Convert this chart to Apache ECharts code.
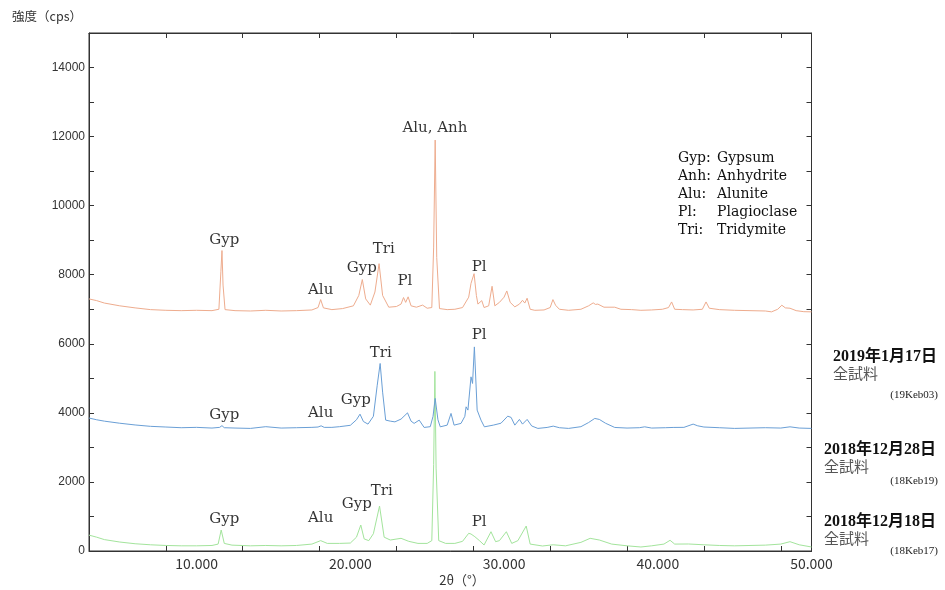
<!DOCTYPE html>
<html><head><meta charset="utf-8">
<script src="https://cdn.jsdelivr.net/npm/echarts@6/dist/echarts.min.js"></script>
<style>html,body{margin:0;padding:0;background:#fff}#c{width:945px;height:590px}</style>
</head><body><div id="c"></div>
<script>
// 2θ (deg), intensity (cps) pairs
const sample19Keb03 = [
[3.0,7300],[3.5,7250],[4.0,7180],[5.0,7100],[6.0,7040],[7.0,6990],[8.0,6970],[9.0,6960],[10.0,6970],[11.0,6960],
[11.45,7000],[11.58,8100],[11.65,8700],[11.72,7700],[11.85,6990],[12.5,6960],[13.5,6950],[14.5,6970],[15.5,6950],[16.5,6960],
[17.5,6980],[17.9,7050],[18.07,7280],[18.25,7040],[18.8,6990],[19.5,7020],[20.2,7100],[20.55,7400],[20.78,7860],[21.0,7300],
[21.3,7120],[21.6,7500],[21.87,8320],[22.1,7400],[22.5,7060],[23.0,7080],[23.3,7150],[23.46,7340],[23.6,7200],[23.76,7360],
[23.95,7100],[24.3,7060],[24.7,7120],[25.0,7030],[25.3,7050],[25.42,8800],[25.52,11900],[25.62,8500],[25.8,7020],[26.3,6990],
[26.8,7000],[27.3,7050],[27.7,7350],[27.85,7750],[28.05,8030],[28.2,7400],[28.3,7150],[28.55,7250],[28.7,7050],[29.0,7100],
[29.22,7666],[29.4,7100],[29.7,7200],[30.0,7350],[30.18,7530],[30.4,7200],[30.7,7070],[31.0,7150],[31.2,7260],[31.35,7180],
[31.5,7320],[31.7,7000],[32.0,6970],[32.6,6980],[33.0,7050],[33.18,7280],[33.35,7117],[33.6,7000],[34.2,6970],[35.0,7000],
[35.5,7100],[35.8,7185],[35.95,7140],[36.1,7150],[36.5,7060],[37.2,7060],[37.6,7000],[38.3,6990],[38.9,6970],[39.6,6980],
[40.3,7000],[40.7,7050],[40.9,7212],[41.1,7000],[41.6,6990],[42.3,6980],[42.9,7000],[43.14,7212],[43.35,7030],[44.0,6990],
[45.0,6970],[46.0,6960],[47.0,6950],[47.4,6925],[47.8,7000],[48.07,7117],[48.3,7040],[48.6,7030],[49.0,6960],[49.5,6930],[50.0,6925]
];
const sample18Keb19 = [
[3.0,3850],[3.5,3800],[4.0,3760],[5.0,3700],[6.0,3650],[7.0,3610],[8.0,3590],[9.0,3570],[10.0,3580],[11.0,3560],
[11.5,3580],[11.65,3630],[11.8,3570],[12.5,3560],[13.5,3550],[14.5,3600],[15.5,3560],[16.5,3570],[17.5,3580],[17.9,3590],
[18.1,3625],[18.3,3580],[18.8,3580],[19.3,3600],[20.0,3640],[20.4,3800],[20.63,3963],[20.85,3750],[21.15,3674],[21.5,3900],
[21.75,4800],[21.94,5430],[22.1,4600],[22.3,3790],[22.6,3760],[22.9,3740],[23.3,3820],[23.72,4000],[23.95,3760],[24.15,3695],
[24.48,3790],[24.8,3578],[25.2,3600],[25.38,3900],[25.52,4418],[25.7,3800],[25.85,3596],[26.3,3645],[26.55,3984],[26.75,3645],
[27.2,3695],[27.45,3900],[27.53,4175],[27.65,4080],[27.85,5043],[27.95,4852],[28.07,5910],[28.25,4080],[28.5,3790],[28.72,3596],
[29.3,3645],[29.8,3700],[30.24,3905],[30.46,3868],[30.7,3645],[31.0,3810],[31.2,3674],[31.5,3810],[31.8,3620],[32.2,3550],
[32.8,3578],[33.2,3616],[33.6,3570],[34.2,3550],[35.0,3600],[35.5,3720],[35.9,3839],[36.2,3810],[36.6,3700],[37.2,3578],
[38.0,3560],[38.8,3570],[39.15,3596],[39.6,3560],[40.5,3570],[41.0,3578],[41.7,3580],[42.3,3674],[42.6,3625],[43.0,3590],
[44.0,3570],[45.0,3550],[46.0,3560],[47.0,3570],[48.0,3560],[48.6,3596],[49.2,3560],[50.0,3550]
];
const sample18Keb17 = [
[3.0,460],[3.5,400],[4.0,330],[5.0,260],[6.0,210],[7.0,180],[8.0,160],[9.0,150],[10.0,150],[11.0,160],
[11.4,200],[11.6,608],[11.8,220],[12.3,170],[13.5,150],[14.5,160],[15.5,150],[16.5,160],[17.5,200],[18.07,300],
[18.5,220],[19.3,220],[20.0,230],[20.4,400],[20.68,752],[20.9,350],[21.2,300],[21.5,500],[21.9,1302],[22.2,400],
[22.6,318],[23.3,367],[23.8,280],[24.4,220],[25.0,220],[25.3,300],[25.42,2500],[25.5,5200],[25.58,2400],[25.75,300],
[26.2,220],[26.8,220],[27.3,280],[27.7,512],[27.85,492],[28.1,414],[28.4,300],[28.7,174],[29.15,558],[29.45,270],
[29.7,300],[30.15,558],[30.5,220],[30.9,300],[31.44,723],[31.7,200],[32.5,145],[33.2,180],[34.0,150],[35.0,250],
[35.6,367],[36.2,318],[37.0,200],[38.0,150],[38.9,116],[39.6,150],[40.4,200],[40.8,310],[41.1,200],[42.0,203],
[43.0,180],[44.0,160],[45.0,150],[46.0,160],[47.0,170],[48.0,200],[48.6,270],[49.2,180],[50.0,116]
];
// peak annotations: [2θ, intensity, text]
const peakLabels = [
[11.8,9000,'Gyp'],[18.07,7550,'Alu'],[20.74,8190,'Gyp'],[22.18,8740,'Tri'],[23.55,7810,'Pl'],[25.5,12240,'Alu, Anh'],[28.38,8215,'Pl'],
[11.8,3935,'Gyp'],[18.07,3990,'Alu'],[20.35,4370,'Gyp'],[21.98,5730,'Tri'],[28.38,6250,'Pl'],
[11.8,925,'Gyp'],[18.07,955,'Alu'],[20.42,1360,'Gyp'],[22.05,1735,'Tri'],[28.38,840,'Pl']
];
const legendAbbr = ['Gyp:', 'Anh:', 'Alu:', 'Pl:', 'Tri:'];
const legendName = ['Gypsum', 'Anhydrite', 'Alunite', 'Plagioclase', 'Tridymite'];
const sampleDates = ['2019年1月17日', '2018年12月28日', '2018年12月18日'];
const sampleIds = ['(19Keb03)', '(18Keb19)', '(18Keb17)'];
const yTickLabels = ['0','2000','4000','6000','8000','10000','12000','14000'];
const xTickLabels = ['10.000','20.000','30.000','40.000','50.000'];

const SERIF = "'DejaVu Serif','Liberation Serif',serif";
const chart = echarts.init(document.getElementById('c'));
const graphics = [];
graphics.push({type:'text', style:{x:12, y:16, text:'強度（cps）', font:"12.5px 'Noto Sans CJK JP'", fill:'#333', verticalAlign:'middle'}});
graphics.push({type:'text', style:{x:462, y:580, text:'2θ（°）', font:"13px 'Noto Sans CJK JP'", fill:'#333', align:'center', verticalAlign:'middle'}});
const legY = [158, 176.5, 194, 212.5, 230.5];
legendAbbr.forEach((a,i)=>{
  graphics.push({type:'text', style:{x:678, y:legY[i], text:a, font:'14px '+SERIF, fill:'#111', verticalAlign:'middle'}});
  graphics.push({type:'text', style:{x:717, y:legY[i], text:legendName[i], font:'14px '+SERIF, fill:'#111', verticalAlign:'middle'}});
});
const grpX = [833, 824, 824];
const grpY = [357, 450, 522];
const idY = [395, 481, 551];
sampleDates.forEach((d,i)=>{
  graphics.push({type:'text', style:{x:grpX[i], y:grpY[i], text:d, font:"bold 16px 'Liberation Serif','Noto Sans CJK JP',serif", fill:'#111', verticalAlign:'middle'}});
  graphics.push({type:'text', style:{x:grpX[i], y:grpY[i]+16, text:'全試料', font:"15px 'Noto Sans CJK JP'", fill:'#555', verticalAlign:'middle'}});
  graphics.push({type:'text', style:{x:938, y:idY[i], text:sampleIds[i], font:"11px 'Liberation Serif',serif", fill:'#222', align:'right', verticalAlign:'middle'}});
});

const lineSeries = (data,color)=>({type:'line', data, showSymbol:false, symbol:'none', smooth:false,
  lineStyle:{color, width:1}, silent:true, animation:false, xAxisIndex:0, yAxisIndex:0});

chart.setOption({
  animation:false,
  grid:{left:89, right:133.5, top:33, bottom:39, show:true, borderColor:'#333', borderWidth:1, backgroundColor:'#fff'},
  xAxis:[
    {type:'value', min:3, max:50, interval:5, position:'bottom',
     axisLine:{show:true, onZero:false, lineStyle:{color:'#333'}},
     axisTick:{show:true, inside:true, length:5, lineStyle:{color:'#333'}},
     axisLabel:{show:true, margin:6, color:'#333', fontSize:14, fontFamily:"'Noto Sans CJK JP'",
       customValues: xTickLabels.map(Number), formatter:v=>v.toFixed(3)},
     splitLine:{show:false}},
    {type:'value', min:3, max:50, interval:5, position:'top',
     axisLine:{show:true, onZero:false, lineStyle:{color:'#333'}},
     axisTick:{show:true, inside:true, length:5, lineStyle:{color:'#333'}},
     axisLabel:{show:false}, splitLine:{show:false}}
  ],
  yAxis:[
    {type:'value', min:0, max:15000, interval:1000, position:'left',
     axisLine:{show:true, onZero:false, lineStyle:{color:'#333'}},
     axisTick:{show:true, inside:true, length:5, lineStyle:{color:'#333'}},
     axisLabel:{show:true, margin:4, color:'#333', fontSize:12, fontFamily:"'Liberation Sans',sans-serif",
       customValues: yTickLabels.map(Number), formatter:v=>String(v)},
     splitLine:{show:false}},
    {type:'value', min:0, max:15000, interval:1000, position:'right',
     axisLine:{show:true, onZero:false, lineStyle:{color:'#333'}},
     axisTick:{show:true, inside:true, length:5, lineStyle:{color:'#333'}},
     axisLabel:{show:false}, splitLine:{show:false}}
  ],
  series:[
    lineSeries(sample18Keb17, '#a3e49c'),
    lineSeries(sample18Keb19, '#6a9fd6'),
    lineSeries(sample19Keb03, '#eeac8e'),
    {type:'scatter', data:peakLabels, symbolSize:0, silent:true, z:5,
     label:{show:true, position:'inside', formatter:p=>p.value[2], color:'#000', fontSize:15, fontFamily:SERIF}}
  ],
  graphic: graphics
});
</script>
</body></html>
